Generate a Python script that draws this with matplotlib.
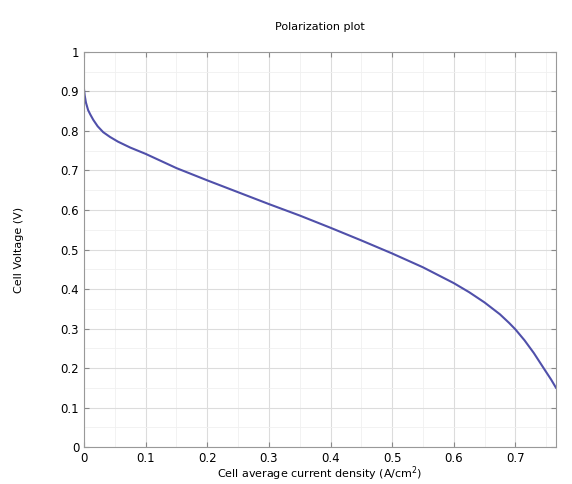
import numpy as np
import matplotlib.pyplot as plt
from matplotlib.ticker import MultipleLocator, FormatStrFormatter

# polarization curve
current = [0, 0.001, 0.003, 0.0065, 0.01, 0.015, 0.022, 0.031, 0.042, 0.055,
           0.075, 0.1, 0.125, 0.15, 0.2, 0.25, 0.3, 0.35, 0.4, 0.45, 0.5,
           0.55, 0.6, 0.625, 0.65, 0.675, 0.69, 0.7, 0.715, 0.73, 0.74,
           0.75, 0.758, 0.766]
voltage = [0.904, 0.89, 0.872, 0.853, 0.842, 0.828, 0.812, 0.797, 0.785, 0.773,
           0.758, 0.742, 0.724, 0.706, 0.675, 0.645, 0.615, 0.586, 0.555, 0.523, 0.49,
           0.455, 0.415, 0.392, 0.366, 0.336, 0.314, 0.298, 0.27, 0.238, 0.214,
           0.19, 0.171, 0.15]

fig = plt.figure(figsize=(5.72, 4.84), dpi=100)
ax = fig.add_axes([0.147, 0.0764, 0.825, 0.8162])

ax.plot(current, voltage, color='#5050aa', lw=1.5)

ax.set_xlim(0, max(current))
ax.set_ylim(0, 1)
ax.xaxis.set_major_locator(MultipleLocator(0.1))
ax.yaxis.set_major_locator(MultipleLocator(0.1))
ax.xaxis.set_minor_locator(MultipleLocator(0.05))
ax.yaxis.set_minor_locator(MultipleLocator(0.05))
ax.xaxis.set_major_formatter(FormatStrFormatter('%g'))
ax.yaxis.set_major_formatter(FormatStrFormatter('%g'))

ax.grid(True, which='major', color='#dcdcdc', lw=0.8)
ax.grid(True, which='minor', color='#f0f0f0', lw=0.6)
ax.set_axisbelow(True)
ax.tick_params(which='both', direction='in', top=True, right=True,
               labelsize=8.5, color='#888888')
ax.tick_params(which='minor', length=0)
for s in ax.spines.values():
    s.set_color('#999999')

ax.set_title('Polarization plot', fontsize=8, pad=16)
ax.set_xlabel('Cell average current density (A/cm$^2$)', fontsize=8, labelpad=0)
ax.set_ylabel('Cell Voltage (V)', fontsize=8, labelpad=26)

plt.savefig('out.png', dpi=100)
